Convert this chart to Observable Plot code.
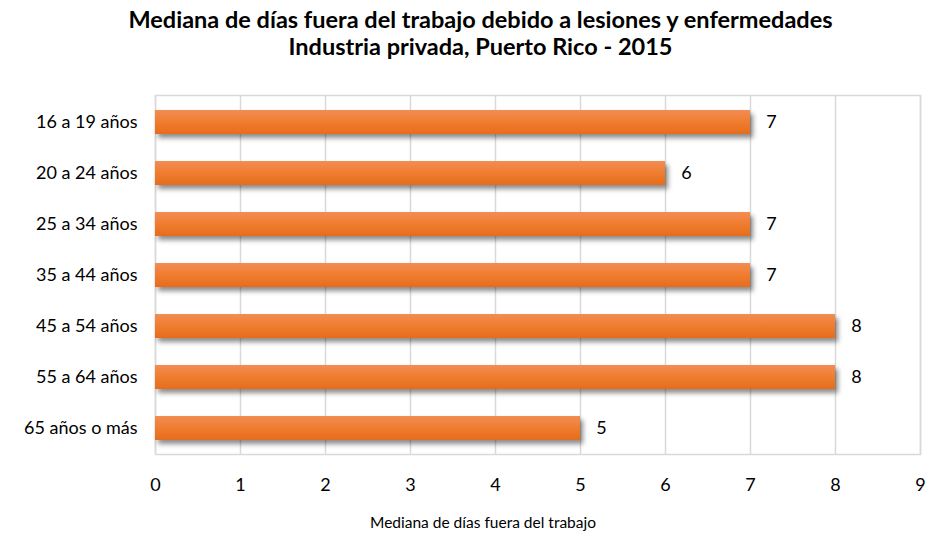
<!DOCTYPE html>
<html>
<head>
<meta charset="utf-8">
<script src="https://cdn.jsdelivr.net/npm/d3@7"></script>
<script src="https://cdn.jsdelivr.net/npm/@observablehq/plot@0.6"></script>
<style>
  html, body { margin: 0; padding: 0; background: #fff; }
  #wrap { width: 927px; height: 537px; font-family: Lato, "Open Sans", sans-serif; }
  #title { height: 75px; box-sizing: border-box; padding-top: 6px; text-align: center; font-weight: bold; font-size: 23.5px; line-height: 27px; color: #000; padding-left: 34px; white-space: nowrap; }
</style>
</head>
<body>
<div id="wrap">
  <div id="title">Mediana de días fuera del trabajo debido a lesiones y enfermedades<br>Industria privada, Puerto Rico - 2015</div>
  <div id="chart"></div>
</div>
<script>
const categories = ["16 a 19 años", "20 a 24 años", "25 a 34 años", "35 a 44 años", "45 a 54 años", "55 a 64 años", "65 años o más"];
const values = [7, 6, 7, 7, 8, 8, 5];
const xTicks = [0, 1, 2, 3, 4, 5, 6, 7, 8, 9];
const axisTitle = "Mediana de días fuera del trabajo";

const data = categories.map((c, i) => ({ category: c, value: values[i] }));

const chart = Plot.plot({
  width: 927,
  height: 462,
  marginLeft: 155,
  marginRight: 7,
  marginTop: 20,
  marginBottom: 83,
  style: { fontFamily: "Lato, 'Open Sans', sans-serif", fontSize: "18px", color: "#000", background: "#fff" },
  x: { domain: [0, 9], ticks: xTicks, label: null },
  y: { domain: categories, paddingInner: 0.53, paddingOuter: 0.255, label: null },
  marks: [
    Plot.gridX(xTicks, { stroke: "#d9d9d9", strokeOpacity: 1, strokeWidth: 1.5 }),
    Plot.frame({ stroke: "#d9d9d9", strokeWidth: 1.5 }),
    Plot.barX(data, { x: "value", y: "category", fill: "url(#barGrad)" }),
    Plot.text(data, { x: "value", y: "category", text: d => String(d.value), dx: 21, fontSize: 18, fill: "#000" }),
    Plot.axisX({ ticks: xTicks, tickSize: 0, tickPadding: 24, fontSize: 18, label: null }),
    Plot.axisY({ tickSize: 0, tickPadding: 18, fontSize: 18, label: null }),
    Plot.text([axisTitle], { frameAnchor: "bottom", dx: -55, dy: 73, text: d => d, fontSize: 15.5, fill: "#000" })
  ]
});

// gradient + shadow defs
const ns = "http://www.w3.org/2000/svg";
const defs = document.createElementNS(ns, "defs");
const grad = document.createElementNS(ns, "linearGradient");
grad.setAttribute("id", "barGrad");
grad.setAttribute("x1", "0"); grad.setAttribute("y1", "0");
grad.setAttribute("x2", "0"); grad.setAttribute("y2", "1");
[["0%", "#f28d55"], ["45%", "#f07e32"], ["100%", "#e66c1c"]].forEach(([o, c]) => {
  const s = document.createElementNS(ns, "stop");
  s.setAttribute("offset", o); s.setAttribute("stop-color", c);
  grad.appendChild(s);
});
defs.appendChild(grad);
const filt = document.createElementNS(ns, "filter");
filt.setAttribute("id", "barShadow");
filt.setAttribute("x", "-5%"); filt.setAttribute("y", "-30%");
filt.setAttribute("width", "115%"); filt.setAttribute("height", "180%");
const ds = document.createElementNS(ns, "feDropShadow");
ds.setAttribute("dx", "3"); ds.setAttribute("dy", "4");
ds.setAttribute("stdDeviation", "2.5");
ds.setAttribute("flood-color", "#000"); ds.setAttribute("flood-opacity", "0.45");
filt.appendChild(ds);
defs.appendChild(filt);
chart.insertBefore(defs, chart.firstChild);

d3.select(chart).selectAll("g[aria-label='bar'] rect").attr("filter", "url(#barShadow)");

document.getElementById("chart").appendChild(chart);
</script>
</body>
</html>
